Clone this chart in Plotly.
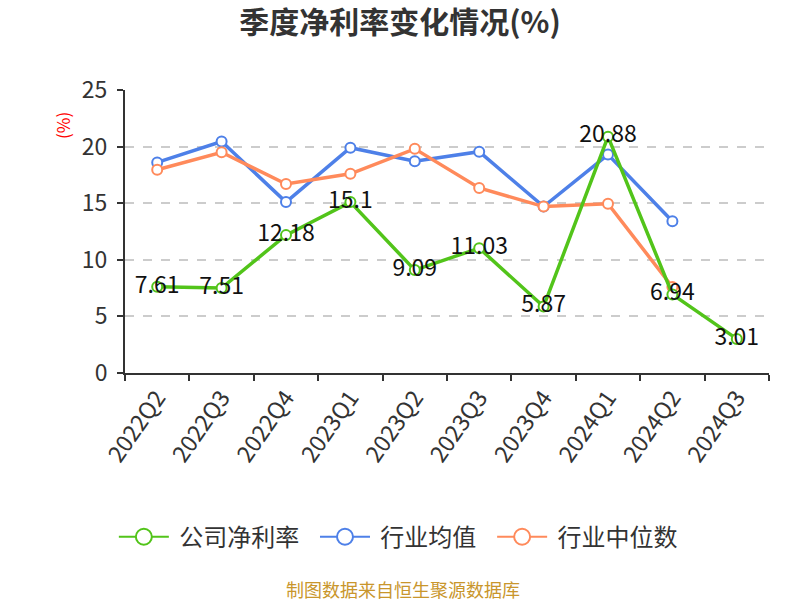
import plotly.graph_objects as go

quarters = ["2022Q2", "2022Q3", "2022Q4", "2023Q1", "2023Q2", "2023Q3", "2023Q4", "2024Q1", "2024Q2", "2024Q3"]
company = [7.61, 7.51, 12.18, 15.1, 9.09, 11.03, 5.87, 20.88, 6.94, 3.01]
industry_avg = [18.6, 20.45, 15.1, 19.9, 18.7, 19.55, 14.7, 19.3, 13.4, None]
industry_median = [17.95, 19.5, 16.7, 17.6, 19.8, 16.35, 14.7, 14.95, 7.6, None]
series_names = ["公司净利率", "行业均值", "行业中位数"]

GREEN = "#52c41a"
BLUE = "#4e80e8"
ORANGE = "#ff8a5b"
FONT = "Noto Sans CJK SC"
NB = "\u00a0"

W, H = 800, 600

fig = go.Figure()
def marker(c):
    return dict(size=10, color="white", line=dict(color=c, width=2))

fig.add_trace(go.Scatter(
    x=quarters, y=industry_avg, name=series_names[1], mode="lines+markers",
    line=dict(color=BLUE, width=3.5), marker=marker(BLUE), showlegend=False,
))
fig.add_trace(go.Scatter(
    x=quarters, y=industry_median, name=series_names[2], mode="lines+markers",
    line=dict(color=ORANGE, width=3.5), marker=marker(ORANGE), showlegend=False,
))
fig.add_trace(go.Scatter(
    x=quarters, y=company, name=series_names[0], mode="lines+markers+text",
    text=[str(v) for v in company], textposition="middle center",
    textfont=dict(size=23, color="#111", family=FONT),
    line=dict(color=GREEN, width=3.5), marker=marker(GREEN), showlegend=False,
))
for nm, c in zip(series_names, [GREEN, BLUE, ORANGE]):
    fig.add_trace(go.Scatter(
        x=[None], y=[None], name=NB + nm + NB * 2, mode="lines+markers",
        line=dict(color=c, width=2),
        marker=dict(size=17, color="white", line=dict(color=c, width=2)),
    ))

fig.update_layout(
    width=W, height=H,
    margin=dict(l=125, r=31, t=90, b=227),
    plot_bgcolor="white", paper_bgcolor="white",
    font=dict(family=FONT, color="#333"),
    title=dict(text="<b>季度净利率变化情况(%)</b>", x=0.5, xanchor="center",
               y=1 - 22 / H, yanchor="middle", font=dict(size=30, color="#333", family=FONT)),
    showlegend=True,
    legend=dict(orientation="h", x=0.433, xanchor="center",
                y=-0.58, yanchor="middle", itemwidth=50,
                font=dict(size=24, color="#333", family=FONT), traceorder="normal"),
    xaxis=dict(type="category", categoryorder="array", categoryarray=quarters,
               tickson="boundaries", ticks="outside", ticklen=6, tickwidth=2, tickcolor="#333",
               showline=True, linecolor="#333", linewidth=2, showgrid=False,
               tickangle=-55, tickfont=dict(size=23, color="#333", family=FONT),
               range=[-0.5, 9.5]),
    yaxis=dict(range=[0, 25], dtick=5, ticks="outside", ticklen=6, tickwidth=2, tickcolor="#333",
               showline=True, linecolor="#333", linewidth=2, ticklabelstandoff=5,
               showgrid=True, gridcolor="#cccccc", griddash="dash", gridwidth=1.5,
               zeroline=False, tickfont=dict(size=23, color="#333", family=FONT)),
    annotations=[
        dict(text="(%)", textangle=-90, x=-0.098, y=0.876, xref="paper", yref="paper",
             xanchor="center", yanchor="middle",
             showarrow=False, font=dict(size=17, color="red", family=FONT)),
        dict(text="制图数据来自恒生聚源数据库", x=0.432, xref="paper", y=-0.763, yref="paper",
             xanchor="center", yanchor="middle", showarrow=False,
             font=dict(size=18, color="#c9962c", family=FONT)),
    ],
)
fig.write_html("out.html", config={"displayModeBar": False},
               post_script="document.body.style.margin='0px';")
